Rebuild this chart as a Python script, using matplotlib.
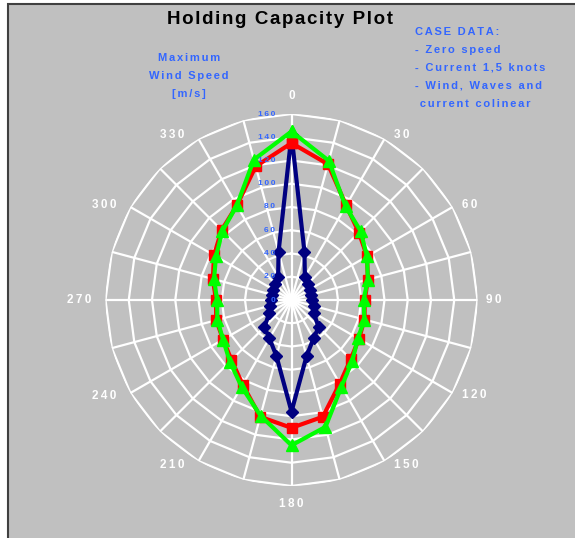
import numpy as np
import matplotlib
matplotlib.use("Agg")
import matplotlib.pyplot as plt
from matplotlib.patches import Rectangle
from matplotlib.transforms import offset_copy

# directions (degrees) and maximum wind speed [m/s] for each case
directions = [0, 15, 30, 45, 60, 75, 90, 105, 120, 135, 150, 165,
              180, 195, 210, 225, 240, 255, 270, 285, 300, 315, 330, 345]
navy_vals = [142, 43, 23, 20, 18, 17, 18, 20, 22, 33, 38, 50,
             96, 50, 38, 33, 22, 19, 18, 17, 18, 20, 23, 43]
red_vals = [135, 121, 94, 82, 75, 68, 63, 65, 67, 72, 83, 104,
            110, 104, 84, 73, 68, 67, 65, 70, 77, 85, 94, 119]
green_vals = [145, 124, 93, 84, 75, 68, 62, 65, 66, 74, 86, 113,
              125, 103, 86, 75, 68, 66, 64, 69, 75, 84, 94, 125]
ring_levels = [0, 20, 40, 60, 80, 100, 120, 140, 160]
angle_labels = ["0", "30", "60", "90", "120", "150", "180", "210", "240", "270", "300", "330"]

W, H = 575, 538
fig = plt.figure(figsize=(W / 100, H / 100), dpi=100)
fig.patch.set_facecolor("white")
plt.rcParams['font.family'] = ['Liberation Sans', 'DejaVu Sans']


# excel-like wide letter spacing
def spaced(s, sp="\u2009"):
    return sp.join(s)


# gray chart area with dark border on left/top
fig.patches.append(Rectangle((8 / W, -0.05), 1.1, 1 - 4 / H + 0.05,
                             transform=fig.transFigure, facecolor="#C0C0C0",
                             edgecolor="#404040", linewidth=1.5, zorder=-5))

cx, cy, R = 291.5, H - 300, 186
ax = fig.add_axes([(cx - R) / W, (cy - R) / H, 2 * R / W, 2 * R / H], projection="polar")
ax.set_zorder(2)
ax.set_theta_zero_location("N")
ax.set_theta_direction(-1)
ax.set_ylim(0, 160)
ax.patch.set_visible(False)
ax.spines["polar"].set_visible(False)
ax.grid(False)
ax.set_xticks([])
ax.set_yticks([])

# polygon grid like a radar chart
theta = np.deg2rad(directions + [directions[0]])
for r in ring_levels[1:]:
    ax.plot(theta, [r] * len(theta), color="white", lw=1.6, zorder=1)
for d in directions:
    ax.plot([np.deg2rad(d)] * 2, [0, 160], color="white", lw=1.6, zorder=1)


# series
def closed(vals):
    return vals + [vals[0]]


ax.plot(theta, closed(navy_vals), color="#000080", lw=3, marker="D", ms=6.5, zorder=3, clip_on=False)
ax.plot(theta, closed(red_vals), color="#FF0000", lw=3, marker="s", ms=7.5, zorder=4, clip_on=False)
ax.plot(theta, closed(green_vals), color="#00FF00", lw=3, marker="^", ms=9, zorder=5, clip_on=False)

blue = "#3366FF"

# radial value labels
lab_tr = offset_copy(ax.transData, fig=fig, x=-16, y=0, units="dots")
for r in ring_levels:
    ax.text(0, r, spaced(str(r)), transform=lab_tr, ha="right", va="center",
            fontsize=6, fontweight="bold", color=blue, zorder=6)

# angle labels outside the outer ring
for i, lab in enumerate(angle_labels):
    a = np.deg2rad(i * 30)
    s, c = np.sin(a), np.cos(a)
    if abs(s) < 0.1:
        ha, dx, dy = "center", 0, 18 * c
    elif s > 0:
        ha, dx, dy = "left", 9, 5 * c
    else:
        ha, dx, dy = "right", -14, 5 * c
    tr = offset_copy(ax.transData, fig=fig, x=dx, y=dy, units="dots")
    ax.text(a, 160, spaced(lab), transform=tr, ha=ha, va="center",
            fontsize=8.5, fontweight="bold", color="white", clip_on=False)

fig.text(280 / W, 1 - 20 / H, spaced("Holding Capacity Plot", "\u200a"), ha="center", va="center",
         fontsize=13.5, fontweight="bold", color="black")
for i, line in enumerate(["Maximum", "Wind Speed", "[m/s]"]):
    fig.text(189 / W, 1 - (58 + 18 * i) / H, spaced(line, "\u200a\u200a"), ha="center", va="center",
             fontsize=8, fontweight="bold", color=blue)
case_lines = ["CASE DATA:", "- Zero speed", "- Current 1,5 knots", "- Wind, Waves and", " current colinear"]
for i, line in enumerate(case_lines):
    fig.text(415 / W, 1 - (32 + 18 * i) / H, spaced(line, "\u200a\u200a"), ha="left", va="center",
             fontsize=8, fontweight="bold", color=blue)

fig.savefig("out.png", dpi=100, facecolor=fig.get_facecolor())
